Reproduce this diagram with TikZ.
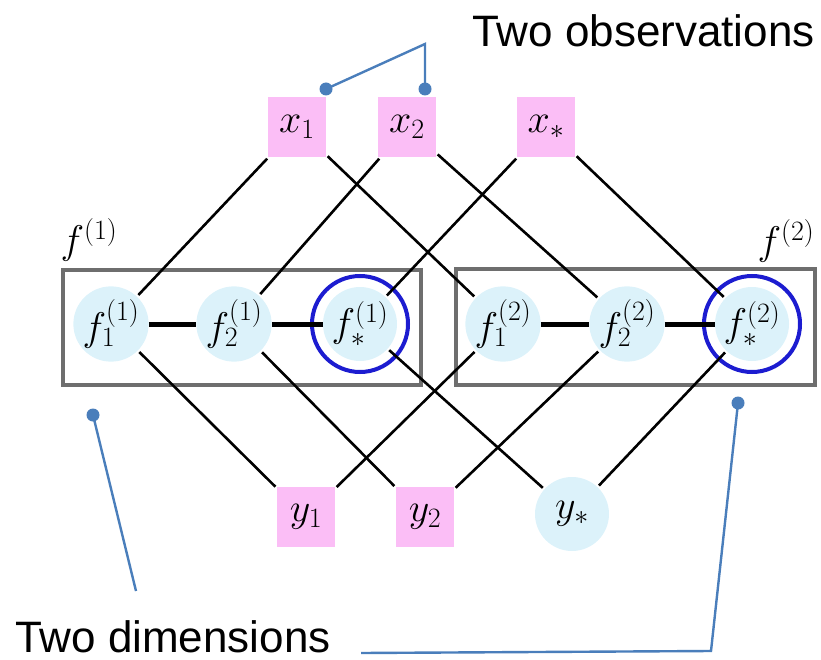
\RequirePackage{fix-cm}
\documentclass[tikz,border=0pt]{standalone}
\usepackage{fontspec}
\newfontfamily\annfont{Liberation Sans}
\definecolor{pinkc}{RGB}{251,190,246}
\definecolor{bluec}{RGB}{220,242,250}
\definecolor{ringc}{RGB}{28,28,208}
\definecolor{annc}{RGB}{74,126,187}
\definecolor{boxc}{RGB}{110,110,110}
\newcommand{\mathfs}{\fontsize{40}{44}\selectfont}
\tikzset{
  obs/.style={fill=pinkc, minimum width=58, minimum height=60, inner sep=0, font=\mathfs},
  lat/.style={circle, fill=bluec, minimum size=74, inner sep=0, font=\mathfs},
  ringline/.style={draw=ringc, line width=4},
  fbox/.style={draw=boxc, line width=4, inner sep=0},
  edge/.style={black, line width=2.6, shorten >=2, shorten <=2},
  chain/.style={black, line width=5},
  ann/.style={annc, line width=2.4},
  adot/.style={circle, fill=annc, inner sep=0, minimum size=13},
  anntext/.style={font=\annfont\fontsize{44}{50}\selectfont, inner sep=0},
  flabel/.style={font=\mathfs, inner sep=0}
}
\begin{document}
\begin{tikzpicture}[x=1pt,y=-1pt]
\useasboundingbox (0,0) rectangle (821,660);
% boxes
\node[fbox, minimum width=358, minimum height=115] (B1) at (242,327.5) {};
\node[fbox, minimum width=359, minimum height=116] (B2) at (635.5,327) {};
\node[flabel] (L1) at (89,240) {$f^{(1)}$};
\node[flabel] (L2) at (786,241) {$f^{(2)}$};
% nodes
\node[obs] (x1) at (297,127) {$x_1$};
\node[obs] (x2) at (407,127) {$x_2$};
\node[obs] (xs) at (546,127) {$x_*$};
\node[lat] (f11) at (111,324) {$f^{(1)}_1$};
\node[lat] (f21) at (234,324) {$f^{(1)}_2$};
\node[lat] (fs1) at (360,324) {$f^{(1)}_*$};
\node[lat] (f12) at (503,324) {$f^{(2)}_1$};
\node[lat] (f22) at (627,324) {$f^{(2)}_2$};
\node[lat] (fs2) at (752,324) {$f^{(2)}_*$};
\draw[ringline] (fs1.center) circle (48);
\draw[ringline] (fs2.center) circle (48);
\node[obs] (y1) at (306,517) {$y_1$};
\node[obs] (y2) at (425,517) {$y_2$};
\node[lat] (ys) at (572,514) {$y_*$};
% chains
\draw[chain] (f11) -- (f21);
\draw[chain] (f21) -- (fs1);
\draw[chain] (f12) -- (f22);
\draw[chain] (f22) -- (fs2);
% edges
\draw[edge] (x1) -- (f11);
\draw[edge] (x1) -- (f12);
\draw[edge] (x2) -- (f21);
\draw[edge] (x2) -- (f22);
\draw[edge] (xs) -- (fs1);
\draw[edge] (xs) -- (fs2);
\draw[edge] (f11) -- (y1);
\draw[edge] (f12) -- (y1);
\draw[edge] (f21) -- (y2);
\draw[edge] (f22) -- (y2);
\draw[edge] (fs1) -- (ys);
\draw[edge] (fs2) -- (ys);
% annotations
\node[anntext, anchor=base west] (t1) at (472,47) {Two observations};
\node[anntext, anchor=base west] (t2) at (15,652) {Two dimensions};
\node[adot] (d1) at (326,89) {};
\node[adot] (d2) at (425,89) {};
\coordinate (c1) at (425,44);
\draw[ann] (d1.center) -- (c1) -- (d2.center);
\node[adot] (d3) at (93,415) {};
\coordinate (c3) at (136,591);
\draw[ann] (d3.center) -- (c3);
\node[adot] (d4) at (738,403) {};
\coordinate (c4) at (711,651);
\coordinate (c5) at (361,653);
\draw[ann] (d4.center) -- (c4) -- (c5);
\end{tikzpicture}
\end{document}
